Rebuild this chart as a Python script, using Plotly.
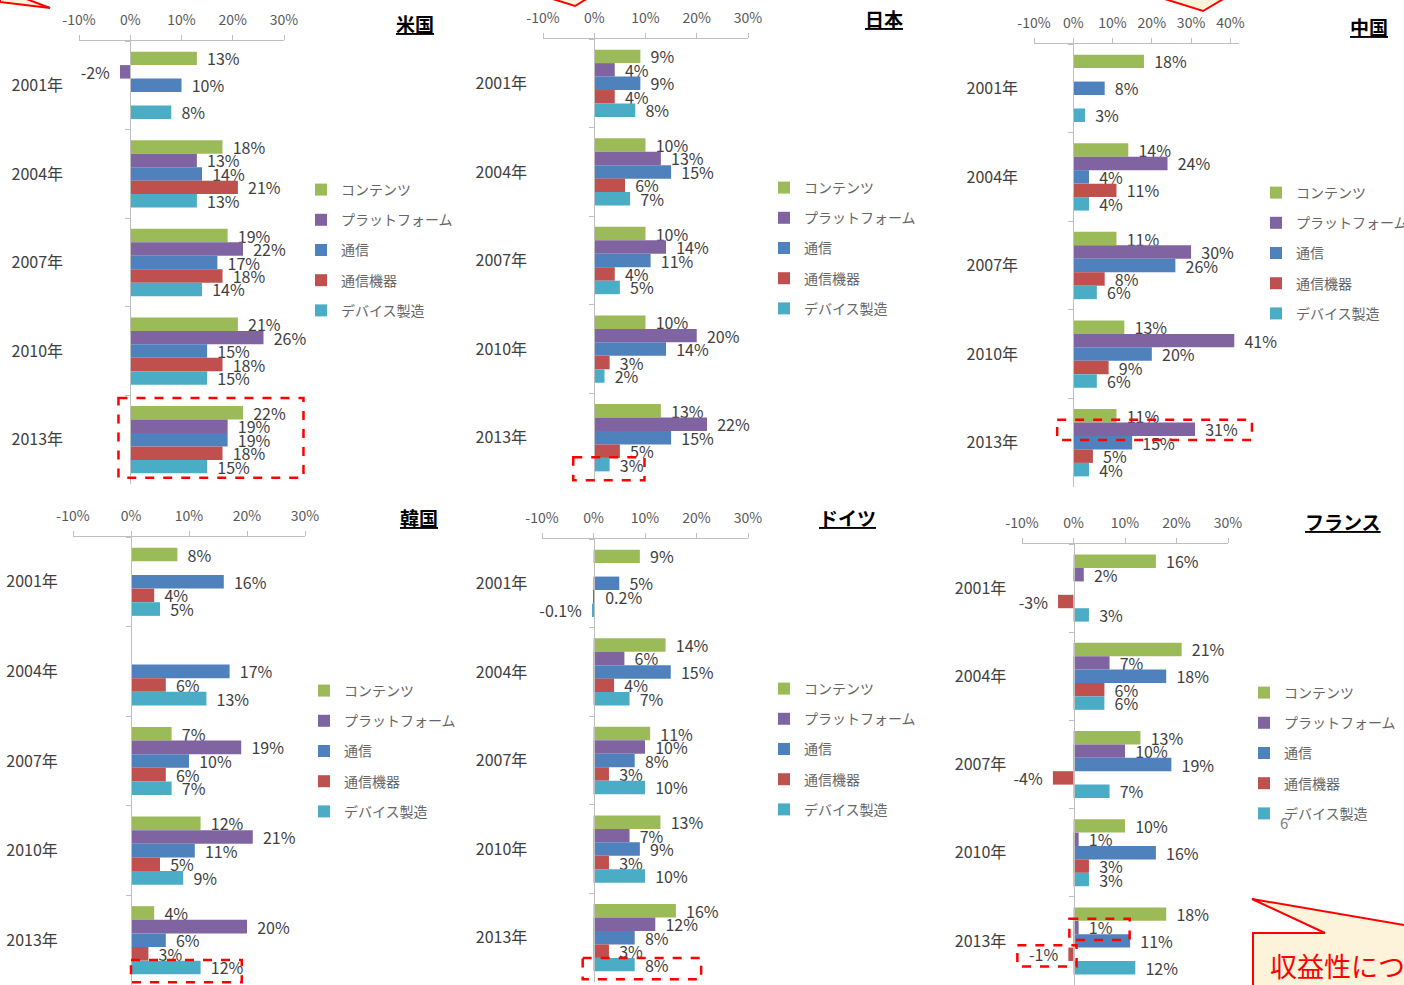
import plotly.graph_objects as go

W, H = 1404, 985

years = ["2001年", "2004年", "2007年", "2010年", "2013年"]
series_names = ["コンテンツ", "プラットフォーム", "通信", "通信機器", "デバイス製造"]
series_colors = ["#9BBB59", "#8064A2", "#4F81BD", "#C0504D", "#4BACC6"]

# 米国
us_contents = [13, 18, 19, 21, 22]
us_platform = [-2, 13, 22, 26, 19]
us_telecom = [10, 14, 17, 15, 19]
us_equipment = [None, 21, 18, 18, 18]
us_device = [8, 13, 14, 15, 15]
# 日本
jp_contents = [9, 10, 10, 10, 13]
jp_platform = [4, 13, 14, 20, 22]
jp_telecom = [9, 15, 11, 14, 15]
jp_equipment = [4, 6, 4, 3, 5]
jp_device = [8, 7, 5, 2, 3]
# 中国
cn_contents = [18, 14, 11, 13, 11]
cn_platform = [None, 24, 30, 41, 31]
cn_telecom = [8, 4, 26, 20, 15]
cn_equipment = [None, 11, 8, 9, 5]
cn_device = [3, 4, 6, 6, 4]
# 韓国
kr_contents = [8, None, 7, 12, 4]
kr_platform = [None, None, 19, 21, 20]
kr_telecom = [16, 17, 10, 11, 6]
kr_equipment = [4, 6, 6, 5, 3]
kr_device = [5, 13, 7, 9, 12]
# ドイツ
de_contents = [9, 14, 11, 13, 16]
de_platform = [None, 6, 10, 7, 12]
de_telecom = [5, 15, 8, 9, 8]
de_equipment = [0.2, 4, 3, 3, 3]
de_device = [-0.1, 7, 10, 10, 8]
# フランス
fr_contents = [16, 21, 13, 10, 18]
fr_platform = [2, 7, 10, 1, 1]
fr_telecom = [None, 18, 19, 16, 11]
fr_equipment = [-3, 6, -4, 3, -1]
fr_device = [3, 6, 7, 3, 12]

tick_vals_30 = [-10, 0, 10, 20, 30]
tick_text_30 = ["-10%", "0%", "10%", "20%", "30%"]
tick_vals_40 = [-10, 0, 10, 20, 30, 40]
tick_text_40 = ["-10%", "0%", "10%", "20%", "30%", "40%"]

panels = [
    dict(title="米国", data=[us_contents, us_platform, us_telecom, us_equipment, us_device],
         xr=[-10, 30], tv=tick_vals_30, tt=tick_text_30,
         dom=(79, 284, 41, 484), leg=(327, 188), tpos=(415, 23), standoff=64,
         boxes=[(-2.3, 33.8, 3.53, 4.43)]),
    dict(title="日本", data=[jp_contents, jp_platform, jp_telecom, jp_equipment, jp_device],
         xr=[-10, 30], tv=tick_vals_30, tt=tick_text_30,
         dom=(543, 748, 39, 482), leg=(790, 186), tpos=(884, 19), standoff=64,
         boxes=[(-4.1, 9.8, 4.22, 4.48)]),
    dict(title="中国", data=[cn_contents, cn_platform, cn_telecom, cn_equipment, cn_device],
         xr=[-10, 42.2], tv=tick_vals_40, tt=tick_text_40,
         dom=(1034, 1239, 44, 487), leg=(1282, 191), tpos=(1369, 27), standoff=52,
         boxes=[(-4.1, 45.5, 3.74, 3.97)]),
    dict(title="韓国", data=[kr_contents, kr_platform, kr_telecom, kr_equipment, kr_device],
         xr=[-10, 30], tv=tick_vals_30, tt=tick_text_30,
         dom=(73, 305, 537, 985), leg=(330, 689), tpos=(419, 517), standoff=70,
         boxes=[(0.0, 19.1, 4.22, 4.47)]),
    dict(title="ドイツ", data=[de_contents, de_platform, de_telecom, de_equipment, de_device],
         xr=[-10, 30], tv=tick_vals_30, tt=tick_text_30,
         dom=(542, 748, 539, 982), leg=(790, 687), tpos=(847, 517), standoff=63,
         boxes=[(-2.1, 20.9, 4.23, 4.47)]),
    dict(title="フランス", data=[fr_contents, fr_platform, fr_telecom, fr_equipment, fr_device],
         xr=[-10, 30], tv=tick_vals_30, tt=tick_text_30,
         dom=(1022, 1228, 544, 985), leg=(1270, 691), tpos=(1343, 521), standoff=64,
         boxes=[(-0.8, 10.9, 3.75, 3.99), (-10.9, 0.6, 4.05, 4.29)]),
]

FONT = "Noto Sans CJK JP"
NB = "\u00a0"


def label(v):
    if v is None:
        return ""
    s = f"{v:g}%"
    return NB + NB + s if v >= 0 else s + NB + NB


fig = go.Figure()
layout = dict(
    width=W, height=H, margin=dict(l=0, r=0, t=0, b=0, autoexpand=False),
    paper_bgcolor="white", plot_bgcolor="white",
    font=dict(family=FONT, color="#404040"),
    barmode="group", bargap=0.24, bargroupgap=0,
    showlegend=True,
)
annotations = []
shapes = []
ncat = len(years)

for i, p in enumerate(panels, start=1):
    sfx = "" if i == 1 else str(i)
    x0, x1, y0, y1 = p["dom"]
    xd = [x0 / W, x1 / W]
    yd = [max(0.0, 1 - y1 / H), 1 - y0 / H]
    xr0, xr1 = p["xr"]
    zero_pos = xd[0] + (0 - xr0) / (xr1 - xr0) * (xd[1] - xd[0])
    legname = "legend" + sfx
    for k, (nm, col) in enumerate(zip(series_names, series_colors)):
        vals = p["data"][k]
        fig.add_trace(go.Bar(
            y=years, x=vals, orientation="h", name=nm,
            marker=dict(color=col, line=dict(width=0)),
            text=[label(v) for v in vals], textposition="outside",
            constraintext="none", cliponaxis=False,
            textfont=dict(family=FONT, size=16, color="#404040"),
            xaxis="x" + sfx, yaxis="y" + sfx,
            legend=legname, legendgroup=f"g{i}_{k}",
            hoverinfo="skip",
        ))
    layout["xaxis" + sfx] = dict(
        domain=xd, range=p["xr"], anchor="y" + sfx, side="top",
        tickmode="array", tickvals=p["tv"], ticktext=p["tt"],
        ticks="outside", ticklen=5, tickcolor="#BFBFBF", ticklabelstandoff=4,
        showline=True, linecolor="#BFBFBF", linewidth=1,
        showgrid=False, zeroline=False,
        tickfont=dict(family=FONT, size=14, color="#595959"),
    )
    layout["yaxis" + sfx] = dict(
        domain=yd, type="category", categoryorder="array", categoryarray=years,
        range=[ncat - 0.5, -0.5], anchor="free", position=zero_pos,
        showline=True, linecolor="#BFBFBF", linewidth=1,
        ticks="outside", tickson="boundaries", ticklen=5, tickcolor="#BFBFBF",
        ticklabelstandoff=p["standoff"],
        showgrid=False, zeroline=False,
        tickfont=dict(family=FONT, size=16, color="#404040"),
    )
    lx, ly = p["leg"]
    layout[legname] = dict(
        x=(lx - 26) / W, y=1 - (ly - 14) / H, xanchor="left", yanchor="top",
        bgcolor="rgba(0,0,0,0)", tracegroupgap=9,
        font=dict(family=FONT, size=14, color="#666666"),
    )
    tx, ty = p["tpos"]
    annotations.append(dict(
        text=f"<b>{p['title']}</b>", x=tx / W, y=1 - ty / H, xref="paper", yref="paper",
        xanchor="center", yanchor="middle", showarrow=False,
        font=dict(family=FONT, size=19, color="#000000", lineposition="under"),
    ))
    # highlight boxes (given in data units), placed in axis-domain fractions so they are not clipped
    for (bx0, bx1, by0, by1) in p["boxes"]:
        shapes.append(dict(
            type="rect", xref=f"x{sfx} domain", yref=f"y{sfx} domain",
            x0=(bx0 - xr0) / (xr1 - xr0), x1=(bx1 - xr0) / (xr1 - xr0),
            y0=(ncat - 0.5 - by0) / ncat, y1=(ncat - 0.5 - by1) / ncat,
            line=dict(color="#FF0000", width=2.5, dash="dash"),
            fillcolor="rgba(0,0,0,0)",
        ))


def ppath(points):
    s = "M " + " L ".join(f"{px / W:.5f},{1 - py / H:.5f}" for px, py in points) + " Z"
    return s


callout_fill = "#FCF3DA"
for pts in [
    [(0, -5), (16, -5), (50, 8), (0, 2)],
    [(540, -5), (575, 6), (593, -5)],
    [(1152, -5), (1203, 11), (1230, -5)],
    [(1253, 995), (1253, 933), (1325, 933), (1252, 899), (1451, 933), (1470, 933), (1470, 995)],
]:
    shapes.append(dict(type="path", xref="paper", yref="paper", path=ppath(pts),
                       fillcolor=callout_fill, line=dict(color="#FF0000", width=2)))

annotations.append(dict(
    text="収益性について", x=1268 / W, y=1 - 965 / H, xref="paper", yref="paper",
    xanchor="left", yanchor="middle", showarrow=False,
    font=dict(family=FONT, size=27, color="#FF0000"),
))
annotations.append(dict(
    text="6", x=1284 / W, y=1 - 822 / H, xref="paper", yref="paper",
    xanchor="center", yanchor="middle", showarrow=False,
    font=dict(family=FONT, size=15, color="#808080"),
))

layout["annotations"] = annotations
layout["shapes"] = shapes
fig.update_layout(**layout)
fig.write_html("out.html")
